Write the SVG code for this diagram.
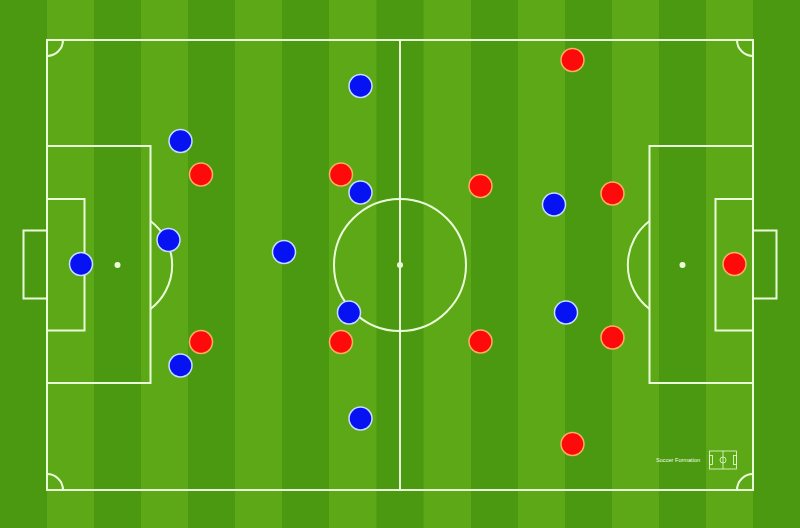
<svg xmlns="http://www.w3.org/2000/svg" width="800" height="528" viewBox="0 0 800 528">
<defs>
<style>
.lt{fill:#5ca817}
.ln{fill:none;stroke:#eaffd9;stroke-width:2}
.spot{fill:#eaffd9}
.blue circle{fill:#0612f2;stroke:#c8dcff;stroke-width:1.5}
.red circle{fill:#ff0a0a;stroke:#f5b060;stroke-width:1.5}
.mini{fill:none;stroke:#eaffd9;stroke-width:0.8}
</style>
</defs>
<g id="grass">
<rect x="0" y="0" width="800" height="528" fill="#4b9911"/>
<rect class="lt" x="47" y="0" width="47" height="528"/>
<rect class="lt" x="141" y="0" width="47" height="528"/>
<rect class="lt" x="235" y="0" width="47" height="528"/>
<rect class="lt" x="329" y="0" width="47.5" height="528"/>
<rect class="lt" x="423.5" y="0" width="47.5" height="528"/>
<rect class="lt" x="518" y="0" width="47" height="528"/>
<rect class="lt" x="612" y="0" width="47" height="528"/>
<rect class="lt" x="706" y="0" width="47" height="528"/>
</g>
<g id="pitch">
<rect class="ln" x="47" y="40" width="706" height="450"/>
<line class="ln" x1="400" y1="40" x2="400" y2="490"/>
<circle class="ln" cx="400" cy="265" r="66"/>
<circle class="spot" cx="400" cy="265" r="3"/>
<path class="ln" d="M63,40 A16,16 0 0 1 47,56"/>
<path class="ln" d="M737,40 A16,16 0 0 0 753,56"/>
<path class="ln" d="M47,474 A16,16 0 0 1 63,490"/>
<path class="ln" d="M753,474 A16,16 0 0 0 737,490"/>
<rect class="ln" x="47" y="146" width="103.5" height="237"/>
<rect class="ln" x="47" y="199" width="37.5" height="131.5"/>
<rect class="ln" x="23.5" y="230.5" width="23.5" height="68"/>
<circle class="spot" cx="117.5" cy="265" r="3"/>
<path class="ln" d="M150.5,221 A55.5,55.5 0 0 1 150.5,309"/>
<rect class="ln" x="649.5" y="146" width="103.5" height="237"/>
<rect class="ln" x="715.5" y="199" width="37.5" height="131.5"/>
<rect class="ln" x="753" y="230.5" width="23.5" height="68"/>
<circle class="spot" cx="682.5" cy="265" r="3"/>
<path class="ln" d="M649.5,221 A55.5,55.5 0 0 0 649.5,309"/>
</g>
<g id="logo">
<text x="656" y="462" font-family="Liberation Sans, Arial, sans-serif" font-size="5.6" fill="#f0ffe8">Soccer Formation</text>
<rect class="mini" x="709.5" y="451" width="27" height="18"/>
<line class="mini" x1="723" y1="451" x2="723" y2="469"/>
<circle class="mini" cx="723" cy="460" r="3"/>
<rect class="mini" x="709.5" y="455.5" width="3" height="9"/>
<rect class="mini" x="733.5" y="455.5" width="3" height="9"/>
</g>
<g id="team-blue" class="blue">
<circle id="b1" cx="81" cy="264" r="11.5"/>
<circle id="b2" cx="180.5" cy="141" r="11.5"/>
<circle id="b3" cx="168.5" cy="240" r="11.5"/>
<circle id="b4" cx="180.5" cy="365.5" r="11.5"/>
<circle id="b5" cx="284" cy="252" r="11.5"/>
<circle id="b6" cx="360.5" cy="86" r="11.5"/>
<circle id="b7" cx="360.5" cy="192.5" r="11.5"/>
<circle id="b8" cx="349" cy="312.5" r="11.5"/>
<circle id="b9" cx="360.5" cy="418.5" r="11.5"/>
<circle id="b10" cx="554" cy="204.5" r="11.5"/>
<circle id="b11" cx="566" cy="312.5" r="11.5"/>
</g>
<g id="team-red" class="red">
<circle id="r1" cx="734.5" cy="264" r="11.5"/>
<circle id="r2" cx="572.5" cy="60" r="11.5"/>
<circle id="r3" cx="612.5" cy="193.5" r="11.5"/>
<circle id="r4" cx="612.5" cy="337.5" r="11.5"/>
<circle id="r5" cx="572.5" cy="444" r="11.5"/>
<circle id="r6" cx="480.5" cy="186" r="11.5"/>
<circle id="r7" cx="480.5" cy="341.5" r="11.5"/>
<circle id="r8" cx="341" cy="174.5" r="11.5"/>
<circle id="r9" cx="341" cy="342" r="11.5"/>
<circle id="r10" cx="201" cy="174.5" r="11.5"/>
<circle id="r11" cx="201" cy="342" r="11.5"/>
</g>
</svg>
